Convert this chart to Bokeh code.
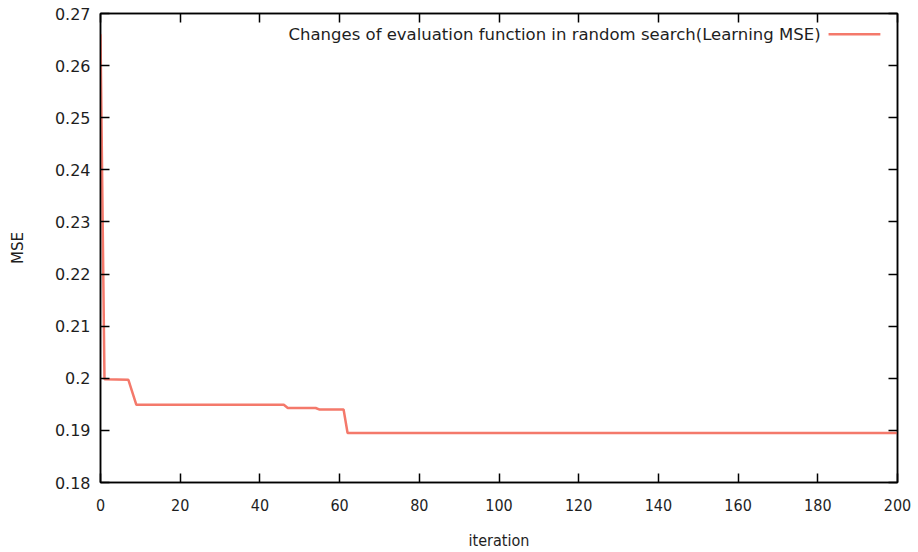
from bokeh.plotting import figure
from bokeh.models import (Range1d, FixedTicker, LinearAxis, Label, Arrow)
from bokeh.embed import file_html
from bokeh.resources import INLINE

# data
iteration = [0, 1, 7, 9, 46, 47, 54, 55, 61, 62, 200]
mse = [0.266, 0.1998, 0.1997, 0.1949, 0.1949, 0.1943, 0.1943, 0.1940, 0.1940, 0.1895, 0.1895]
series_name = "Changes of evaluation function in random search(Learning MSE)"

x_ticks = [0, 20, 40, 60, 80, 100, 120, 140, 160, 180, 200]
y_ticks = [0.18, 0.19, 0.2, 0.21, 0.22, 0.23, 0.24, 0.25, 0.26, 0.27]
y_tick_labels = ["0.18", "0.19", "0.2", "0.21", "0.22", "0.23", "0.24", "0.25", "0.26", "0.27"]

RED = "#f4796b"
FONT = "DejaVu Sans"
NARROW = "DejaVu Sans Condensed"
TEXT = "#1e1e1e"

p = figure(width=918, height=552, output_backend="svg", toolbar_location=None,
           x_range=Range1d(0, 200), y_range=Range1d(0.18, 0.27),
           min_border_left=100, min_border_right=21, min_border_top=13, min_border_bottom=69)
p.background_fill_color = "white"
p.border_fill_color = "white"
p.outline_line_color = "black"
p.outline_line_width = 1.5
p.xgrid.visible = False
p.ygrid.visible = False

p.line(iteration, mse, line_color=RED, line_width=2.5)

def style_axis(ax):
    ax.axis_line_color = "black"
    ax.axis_line_width = 1.5
    ax.major_tick_line_color = "black"
    ax.major_tick_line_width = 1.5
    ax.major_tick_in = 9
    ax.major_tick_out = 0
    ax.minor_tick_line_color = None

xa = p.xaxis[0]
xa.ticker = FixedTicker(ticks=x_ticks)
style_axis(xa)
xa.major_label_text_font = NARROW
xa.major_label_text_font_size = "16px"
xa.major_label_text_color = TEXT
xa.major_label_standoff = 16
xa.axis_label = "iteration"
xa.axis_label_text_font = NARROW
xa.axis_label_text_font_size = "16px"
xa.axis_label_text_font_style = "normal"
xa.axis_label_text_color = TEXT
xa.axis_label_standoff = 17

ya = p.yaxis[0]
ya.ticker = FixedTicker(ticks=y_ticks)
ya.major_label_overrides = {t: l for t, l in zip(y_ticks, y_tick_labels)}
style_axis(ya)
ya.major_label_text_font = FONT
ya.major_label_text_font_size = "16px"
ya.major_label_text_color = TEXT
ya.major_label_standoff = 10
ya.axis_label = "MSE"
ya.axis_label_text_font = FONT
ya.axis_label_text_font_size = "15px"
ya.axis_label_text_font_style = "normal"
ya.axis_label_text_color = TEXT
ya.axis_label_standoff = 25

top = LinearAxis(ticker=FixedTicker(ticks=x_ticks), major_label_text_font_size="1px",
                 major_label_text_color=None, major_label_standoff=0)
style_axis(top)
p.add_layout(top, "above")
right = LinearAxis(ticker=FixedTicker(ticks=y_ticks), major_label_text_font_size="1px",
                   major_label_text_color=None, major_label_standoff=0)
style_axis(right)
p.add_layout(right, "right")

# legend (gnuplot style: text then sample)
p.add_layout(Label(x=180.7, y=0.266, text=series_name, text_align="right",
                   text_baseline="middle", text_font=FONT, text_font_size="16.5px",
                   text_color=TEXT))
p.add_layout(Arrow(end=None, x_start=182.7, y_start=0.266, x_end=195.7, y_end=0.266,
                   line_color=RED, line_width=2.5))

open("out.html", "w").write(file_html(p, INLINE))
